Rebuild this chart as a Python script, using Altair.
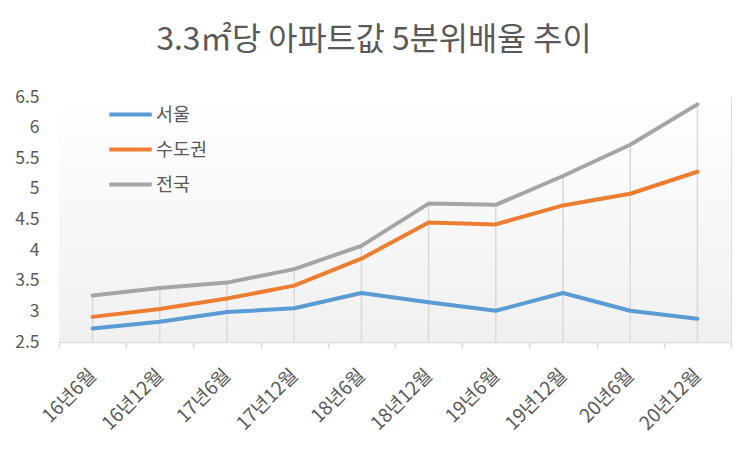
import altair as alt
import pandas as pd

categories = ["16년6월", "16년12월", "17년6월", "17년12월", "18년6월",
              "18년12월", "19년6월", "19년12월", "20년6월", "20년12월"]
seoul = [2.72, 2.83, 2.99, 3.05, 3.30, 3.15, 3.01, 3.30, 3.01, 2.88]
metro = [2.91, 3.04, 3.21, 3.42, 3.86, 4.45, 4.42, 4.73, 4.92, 5.28]
nation = [3.26, 3.38, 3.47, 3.69, 4.07, 4.76, 4.74, 5.21, 5.72, 6.38]
y_ticks = [2.5, 3, 3.5, 4, 4.5, 5, 5.5, 6, 6.5]
series_names = ["서울", "수도권", "전국"]
series_colors = ["#5B9BD5", "#ED7D31", "#A5A5A5"]

rows = []
for name, vals in zip(series_names, [seoul, metro, nation]):
    for c, v in zip(categories, vals):
        rows.append({"기간": c, "지역": name, "값": v})
df = pd.DataFrame(rows)
df_nation = pd.DataFrame({"기간": categories, "값": nation})

FONT = "Noto Sans CJK KR"
W, H = 672, 245

xenc = alt.X("기간:N", sort=categories, bandPosition=0.5,
             scale=alt.Scale(type="band", paddingInner=0, paddingOuter=0),
             axis=alt.Axis(title=None, labelAngle=-45, labelAlign="right",
                           labelBaseline="middle", labelFontSize=19,
                           labelColor="#595959", labelFont=FONT,
                           tickBand="extent", ticks=True, tickSize=6,
                           tickColor="#d9d9d9", tickWidth=1.5,
                           domainColor="#d9d9d9", domainWidth=1.5,
                           grid=False, labelPadding=24, labelOverlap=False,
                           labelBound=False, labelFlush=False))
yscale = alt.Scale(domain=[2.5, 6.5], nice=False, zero=False)
yaxis = alt.Axis(title=None, values=y_ticks,
                 labelExpr="format(datum.value, '~g')",
                 labelFontSize=17.5, labelColor="#595959",
                 labelFont=FONT, ticks=False, domain=False, grid=False,
                 labelPadding=20, labelOverlap=False)

bg = alt.Chart(pd.DataFrame({"k": [0]})).mark_rect(
    color=alt.Gradient(gradient="linear", x1=0, y1=0, x2=0, y2=1,
                       stops=[alt.GradientStop(offset=0, color="#ffffff"),
                              alt.GradientStop(offset=1, color="#f0f0f0")])
).encode(x=alt.value(0), x2=alt.value(W), y=alt.value(0), y2=alt.value(H))

drops = alt.Chart(df_nation).mark_rule(color="#d9d9d9", strokeWidth=1.5).encode(
    x=xenc,
    y=alt.Y("값:Q", scale=yscale, axis=yaxis),
    y2=alt.datum(2.5),
)

lines = alt.Chart(df).mark_line(strokeWidth=4, strokeCap="round", strokeJoin="round").encode(
    x=xenc,
    y=alt.Y("값:Q", scale=yscale, axis=yaxis),
    color=alt.Color("지역:N", sort=series_names,
                    scale=alt.Scale(domain=series_names, range=series_colors),
                    legend=alt.Legend(title=None, orient="none", legendX=48, legendY=-6,
                                      symbolType="stroke", symbolStrokeWidth=4,
                                      symbolSize=1800, labelFontSize=18.5,
                                      labelColor="#595959", labelFont=FONT,
                                      rowPadding=2, labelOffset=2)),
)

chart = alt.layer(bg, drops, lines).properties(
    width=W, height=H,
    title=alt.Title("3.3㎡당 아파트값 5분위배율 추이", fontSize=31.7, font=FONT,
                    fontWeight="normal", color="#595959", anchor="middle",
                    offset=31, dx=-21),
    padding={"left": 51, "top": 89, "right": 10, "bottom": 100},
    autosize=alt.AutoSizeParams(type="none"),
).configure_view(stroke=None).configure(background="white")

chart.save("out.html", embed_options={"renderer": "svg", "actions": False})
